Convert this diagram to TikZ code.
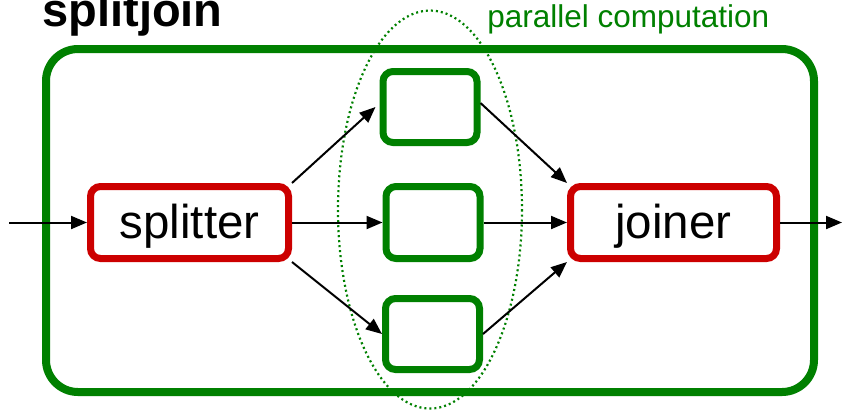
\documentclass[tikz,border=0pt]{standalone}
\usepackage{fontspec}
\setmainfont{Liberation Sans}
\usetikzlibrary{arrows.meta}

\definecolor{sjgreen}{RGB}{0,128,0}
\definecolor{sjred}{RGB}{204,0,0}

\tikzset{
  filterbox/.style={draw=sjred,line width=3.5pt,rounded corners=5pt,
    minimum height=36pt,inner sep=0pt,text depth=1pt,font=\fontsize{23.75}{28}\selectfont},
  workbox/.style={draw=sjgreen,line width=3.5pt,rounded corners=5pt,
    minimum width=47pt,minimum height=35.5pt,inner sep=0pt},
  flow/.style={line width=1pt,-{Triangle[length=8pt,width=6.5pt]}}
}

\begin{document}
\begin{tikzpicture}[x=0.5pt,y=-0.5pt]
  \useasboundingbox (0,0) rectangle (842,409);
  % outer splitjoin container
  \draw[sjgreen,line width=4pt,rounded corners=16pt] (46,49) rectangle (814,392);
  \node[anchor=base west,inner sep=0pt,font=\bfseries\fontsize{23.5}{28}\selectfont] (title) at (42,26) {splitjoin};
  % parallel branches
  \draw[sjgreen,line width=1.1pt,dash pattern=on 1pt off 1.5pt] (430,209.5) ellipse [x radius=92,y radius=199];
  \node[anchor=base west,inner sep=0pt,text=sjgreen,font=\fontsize{15.75}{19}\selectfont] (partext) at (487,27) {parallel computation};
  \node[filterbox,minimum width=99pt] (splitter) at (189.5,222.5) {splitter};
  \node[filterbox,minimum width=103pt] (joiner) at (673.5,222.5) {joiner};
  \node[workbox] (top) at (430,107) {};
  \node[workbox,minimum height=36pt] (mid) at (433,222.5) {};
  \node[workbox] (bot) at (432.5,334) {};
  \coordinate (in) at (9,222.5);
  \coordinate (out) at (842,222.5);
  % edges
  \draw[flow] (in) -- (splitter.west);
  \draw[flow] (splitter.north east) -- ([xshift=-2pt]top.west);
  \draw[flow] (splitter.east) -- (mid.west);
  \draw[flow] (splitter.south east) -- (bot.west);
  \draw[flow] ([yshift=2pt]top.east) -- (joiner.north west);
  \draw[flow] (mid.east) -- (joiner.west);
  \draw[flow] (bot.east) -- (joiner.south west);
  \draw[flow] (joiner.east) -- (out);
\end{tikzpicture}
\end{document}
